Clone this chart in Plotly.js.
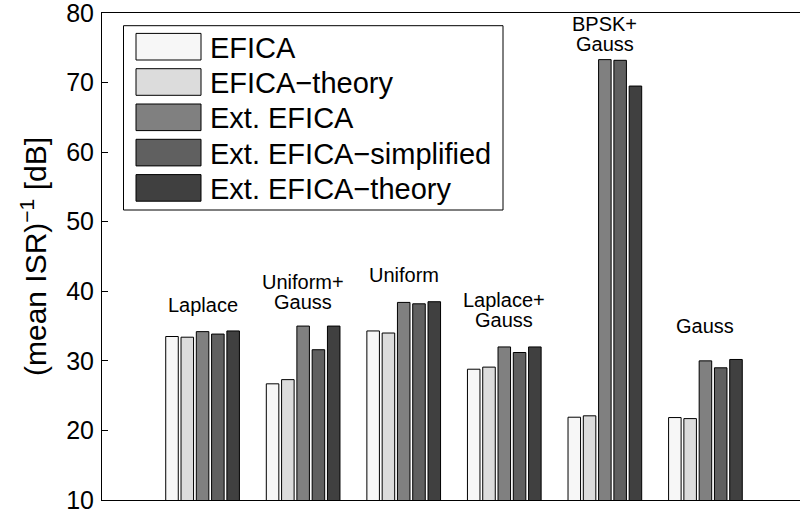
<!DOCTYPE html>
<html>
<head>
<meta charset="utf-8">
<script src="https://cdn.plot.ly/plotly-3.0.1.min.js"></script>
<style>
html,body{margin:0;padding:0;overflow:hidden;background:#fff;width:800px;height:521px;}
#chart{width:808px;height:521px;}
</style>
</head>
<body>
<div id="chart"></div>
<script>
// ---- data ----
const categories = ["Laplace", "Uniform+<br>Gauss", "Uniform", "Laplace+<br>Gauss", "BPSK+<br>Gauss", "Gauss"];
const seriesNames = ["EFICA", "EFICA\u2212theory", "Ext. EFICA", "Ext. EFICA\u2212simplified", "Ext. EFICA\u2212theory"];
const efica           = [33.5, 26.7, 34.3, 28.8, 21.9, 21.85];
const eficaTheory     = [33.4, 27.3, 34.0, 29.1, 22.1, 21.7];
const extEfica        = [34.2, 35.0, 38.4, 32.0, 73.3, 30.0];
const extEficaSimpl   = [33.85, 31.6, 38.2, 31.2, 73.2, 29.0];
const extEficaTheory  = [34.3, 35.0, 38.5, 32.0, 69.5, 30.2];
const seriesValues = [efica, eficaTheory, extEfica, extEficaSimpl, extEficaTheory];
const yTicks = [10, 20, 30, 40, 50, 60, 70, 80];

// ---- styles / layout ----
const colors = ["#f7f7f7", "#dcdcdc", "#808080", "#606060", "#404040"];
const FONT = "Liberation Sans, Arial, Helvetica, sans-serif";
// baseline height (in y units) of each group's text label (last line)
const labelBaseline = [36.9, 37.3, 41.2, 34.7, 74.4, 33.9];

const xIdx = categories.map((c, i) => i);
const traces = seriesValues.map((vals, k) => ({
  type: "bar",
  x: xIdx,
  y: vals,
  name: seriesNames[k],
  marker: {color: colors[k], line: {color: "#000", width: 1}},
  showlegend: false,
  hoverinfo: "y+name"
}));

const annotations = [];
categories.forEach((c, i) => {
  const lines = c.split("<br>");
  lines.forEach((ln, j) => {
    annotations.push({
      x: i, y: labelBaseline[i], xref: "x", yref: "y",
      text: ln, showarrow: false, yanchor: "bottom",
      yshift: -5 + (lines.length - 1 - j) * 20,
      font: {family: FONT, size: 20, color: "#000"}
    });
  });
});

// custom legend (paper coords, plot area 102..806 x 13..500 px)
const PL = 102, PW = 704, PT = 13, PH = 487;
const px = v => (v - PL) / PW;
const py = v => 1 - (v - PT) / PH;
const shapes = [{
  type: "rect", xref: "paper", yref: "paper",
  x0: px(123.5), x1: px(503), y0: py(210), y1: py(25.7),
  line: {color: "#000", width: 1}, fillcolor: "#fff", layer: "above"
}];
seriesNames.forEach((n, k) => {
  const cy = 46.7 + k * 35.3;
  shapes.push({
    type: "rect", xref: "paper", yref: "paper",
    x0: px(136), x1: px(201), y0: py(cy + 13.3), y1: py(cy - 13.3),
    line: {color: "#000", width: 1}, fillcolor: colors[k], layer: "above"
  });
  annotations.push({
    x: px(208), y: py(cy + 1), xref: "paper", yref: "paper",
    text: n, showarrow: false, xanchor: "left", yanchor: "middle",
    font: {family: FONT, size: 29, color: "#000"}
  });
});

const layout = {
  width: 808, height: 521,
  margin: {l: 102, r: 2, t: 13, b: 21},
  paper_bgcolor: "#fff", plot_bgcolor: "#fff",
  barmode: "group", bargap: 0.24, bargroupgap: 0.18,
  font: {family: FONT, color: "#000"},
  xaxis: {
    range: [-1, 6], showticklabels: false, ticks: "", showgrid: false, zeroline: false,
    showline: true, linecolor: "#000", linewidth: 1, mirror: true, fixedrange: true
  },
  yaxis: {
    range: [10, 80], tickvals: yTicks, ticktext: yTicks.map(String),
    ticks: "inside", ticklen: 6, tickcolor: "#000", mirror: "ticks",
    showline: true, linecolor: "#000", linewidth: 1, showgrid: false, zeroline: false,
    tickfont: {family: FONT, size: 25, color: "#000"}, ticklabelstandoff: 2,
    ticklabeloverflow: "allow",
    title: {text: "(mean ISR)<sup>\u22121</sup> [dB]", font: {family: FONT, size: 30, color: "#000"}, standoff: 10},
    fixedrange: true
  },
  annotations: annotations,
  shapes: shapes,
  showlegend: false
};

Plotly.newPlot("chart", traces, layout, {displayModeBar: false, staticPlot: true});
</script>
</body>
</html>
